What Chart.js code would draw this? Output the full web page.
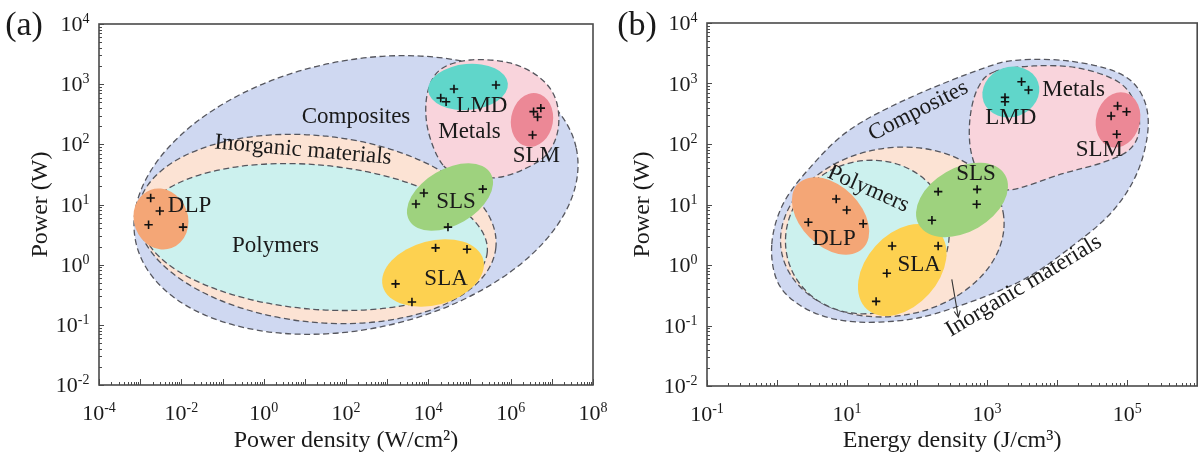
<!DOCTYPE html>
<html>
<head>
<meta charset="utf-8">
<script src="https://cdn.jsdelivr.net/npm/chart.js@4.4.1/dist/chart.umd.min.js"></script>
<style>
  html, body { margin: 0; padding: 0; background: #fff; }
  #wrap { position: relative; width: 1203px; height: 455px; overflow: hidden; }
  canvas { position: absolute; top: 0; }
  #chartA { left: 0; }
  #chartB { left: 600px; }
</style>
</head>
<body>
<div id="wrap">
  <canvas id="chartA" width="620" height="455"></canvas>
  <canvas id="chartB" width="603" height="455"></canvas>
</div>
<script>
// ---------- (a) power vs power density ----------
const dlpPowerDensity = [1.8e-3, 3.0e-3, 1.6e-3, 1.1e-2];
const dlpPowerA       = [12.8, 7.8, 4.6, 4.2];
const slaPowerDensity = [1.5e4, 8.7e4, 1.6e3, 4.0e3];
const slaPowerA       = [1.9, 1.8, 0.48, 0.24];
const slsPowerDensity = [7.8e3, 5.0e3, 2.1e5, 3.0e4];
const slsPowerA       = [15.5, 10.2, 18, 4.2];
const lmdPowerDensity = [2.0e4, 2.7e4, 4.2e4, 4.4e5];
const lmdPowerA       = [590, 510, 830, 970];
const slmPowerDensity = [3.6e6, 5.4e6, 4.5e6, 3.4e6];
const slmPowerA       = [350, 400, 285, 143];

// ---------- (b) power vs energy density ----------
const dlpEnergyDensity = [7.0, 9.9, 2.8, 17];
const dlpPowerB        = [12.3, 8.1, 5.1, 4.8];
const slaEnergyDensity = [44, 200, 37, 26];
const slaPowerB        = [2.06, 2.06, 0.73, 0.25];
const slsEnergyDensity = [200, 720, 710, 163];
const slsPowerB        = [16.3, 17.8, 10.1, 5.5];
const lmdEnergyDensity = [3.1e3, 3.9e3, 1.8e3, 1.8e3];
const lmdPowerB        = [1070, 780, 590, 500];
const slmEnergyDensity = [7.3e4, 9.8e4, 5.9e4, 7.1e4];
const slmPowerB        = [425, 342, 290, 145];

// ---------- axes ----------
const xRangeA = [1e-4, 1e8];
const xRangeB = [1e-1, 1e6];
const yRange  = [1e-2, 1e4];
const xTickExpA = [-4, -2, 0, 2, 4, 6, 8];
const xTickExpB = [-1, 1, 3, 5];
const yTickExp  = [-2, -1, 0, 1, 2, 3, 4];

// ---------- material classes, (a) ----------
// ellipses: centre in data units, half-spans in decades, tilt in degrees
const classNamesA   = ['Composites', 'Inorganic materials', 'Polymers'];
const classCentreXA = [175, 19.7, 17.7];
const classCentreYA = [14.4, 3.92, 2.88];
const classSpanXA   = [5.47, 4.37, 4.20];
const classSpanYA   = [2.23, 1.55, 1.20];
const classTiltA    = [-12, 6, 5];
const metalsEdgeXA = [2.27e4, 9.8e3, 9.3e3, 1.9e4, 1.03e5, 9.6e5, 5.2e6, 1.26e7, 1.41e7, 7.2e6, 1.68e6, 3.7e5, 7.8e4];
const metalsEdgeYA = [45, 173, 660, 1720, 2520, 2250, 1270, 546, 173, 66, 36, 27.6, 32];

// ---------- material classes, (b) ----------
const compositesEdgeXB = [0.84, 1.02, 2.10, 6.6, 28.9, 175, 2830, 1.72e4, 6.4e4, 1.44e5, 2.0e5, 1.54e5, 7.0e4, 1.46e4, 2830, 900, 77, 10.8, 2.92, 1.2];
const compositesEdgeYB = [2.14, 0.524, 0.218, 0.128, 0.114, 0.155, 0.524, 2.14, 8.1, 37, 206, 724, 1550, 2355, 2440, 1800, 575, 170, 40, 9.8];
const classNamesB   = ['Inorganic materials', 'Polymers'];
const classCentreXB = [44.3, 19.5];
const classCentreYB = [3.51, 2.90];
const classSpanXB   = [1.607, 1.18];
const classSpanYB   = [1.388, 1.256];
const classTiltB    = [-10, -20];
const metalsEdgeXB = [1250, 4630, 2.02e4, 7.5e4, 1.31e5, 1.49e5, 1.07e5, 4.6e4, 1.16e4, 2040, 870, 590, 570, 740];
const metalsEdgeYB = [1550, 1950, 1800, 1060, 458, 170, 80, 50, 32, 17.4, 27.4, 74, 269, 843];

// ---------- process windows ----------
const processNames = ['DLP', 'SLA', 'SLS', 'LMD', 'SLM'];
const procCentreXA = [3.2e-3, 1.3e4, 3.36e4, 9.2e4, 3.3e6];
const procCentreYA = [5.74, 0.728, 13.3, 898, 254];
const procSpanXA   = [0.656, 1.263, 1.142, 0.972, 0.510];
const procSpanYA   = [0.515, 0.532, 0.465, 0.382, 0.449];
const procTiltA    = [-20, -15, -30, -5, 10];
const procCentreXB = [5.81, 61.4, 438, 2180, 7.4e4];
const procCentreYB = [6.46, 0.826, 11.9, 724, 250];
const procSpanXB   = [0.654, 0.754, 0.711, 0.413, 0.313];
const procSpanYB   = [0.496, 0.595, 0.529, 0.413, 0.463];
const procTiltB    = [45, -48, -30, -20, 15];

// ---------- text labels ----------
const labelTextA = ['Composites', 'Inorganic materials', 'Polymers', 'DLP', 'SLS', 'SLA', 'LMD', 'Metals', 'SLM'];
const labelXA    = [175, 9.0, 1.94, 0.0158, 4.7e4, 2.7e4, 2.0e5, 1.0e5, 4.2e6];
const labelYA    = [284, 80, 2.04, 9.4, 11.0, 0.58, 434, 163, 64];
const labelTiltA = [0, 5, 0, 0, 0, 0, 0, 0, 0];
const labelTextB = ['Composites', 'Metals', 'LMD', 'SLM', 'SLS', 'Polymers', 'DLP', 'SLA', 'Inorganic materials'];
const labelXB    = [104, 1.72e4, 2180, 4.0e4, 693, 20.1, 6.5, 107, 3330];
const labelYB    = [351, 781, 269, 79.6, 32.5, 18.0, 2.74, 1.0, 0.45];
const labelTiltB = [-27, 0, 0, 0, 0, 24, 0, 0, -31];
const arrowXB = [313, 388];
const arrowYB = [0.58, 0.137];

// ---------- styling ----------
const FONT = "'Liberation Serif', 'Times New Roman', serif";
const INK = '#1a1a1a';
const classColors = {
  'Composites': '#cfd8f1',
  'Inorganic materials': '#fce3d4',
  'Polymers': '#ccf1ee',
  'Metals': '#f9d4dc'
};
const processColors = { DLP: '#f4a676', SLA: '#fdd150', SLS: '#9ed27e', LMD: '#60d6ca', SLM: '#ec8896' };

function ellipseShape(name, cx, cy, sx, sy, tilt, color, outline) {
  return { kind: 'ellipse', name, cx, cy, sx, sy, tilt, color, outline };
}
function edgeShape(name, xs, ys, color) {
  return { kind: 'edge', name, xs, ys, color, outline: true };
}

const shapesA = [
  ...classNamesA.map((n, i) => ellipseShape(n, classCentreXA[i], classCentreYA[i], classSpanXA[i], classSpanYA[i], classTiltA[i], classColors[n], true)),
  edgeShape('Metals', metalsEdgeXA, metalsEdgeYA, classColors.Metals),
  ...processNames.map((n, i) => ellipseShape(n, procCentreXA[i], procCentreYA[i], procSpanXA[i], procSpanYA[i], procTiltA[i], processColors[n], false))
];
const shapesB = [
  edgeShape('Composites', compositesEdgeXB, compositesEdgeYB, classColors.Composites),
  ...classNamesB.map((n, i) => ellipseShape(n, classCentreXB[i], classCentreYB[i], classSpanXB[i], classSpanYB[i], classTiltB[i], classColors[n], true)),
  edgeShape('Metals', metalsEdgeXB, metalsEdgeYB, classColors.Metals),
  ...processNames.map((n, i) => ellipseShape(n, procCentreXB[i], procCentreYB[i], procSpanXB[i], procSpanYB[i], procTiltB[i], processColors[n], false))
];

// closed smooth curve through the given pixel points
function traceClosed(ctx, pts) {
  const n = pts.length;
  ctx.moveTo(pts[0][0], pts[0][1]);
  for (let i = 0; i < n; i++) {
    const p0 = pts[(i - 1 + n) % n], p1 = pts[i], p2 = pts[(i + 1) % n], p3 = pts[(i + 2) % n];
    ctx.bezierCurveTo(
      p1[0] + (p2[0] - p0[0]) / 6, p1[1] + (p2[1] - p0[1]) / 6,
      p2[0] - (p3[0] - p1[0]) / 6, p2[1] - (p3[1] - p1[1]) / 6,
      p2[0], p2[1]);
  }
  ctx.closePath();
}

function drawPower(ctx, exp, x, baseline, align) {
  const base = '10', sup = String(exp);
  ctx.font = `22px ${FONT}`;
  const wb = ctx.measureText(base).width;
  ctx.font = `14px ${FONT}`;
  const ws = ctx.measureText(sup).width;
  const x0 = align === 'center' ? x - (wb + ws) / 2 : x - (wb + ws);
  ctx.textAlign = 'left';
  ctx.textBaseline = 'alphabetic';
  ctx.font = `22px ${FONT}`;
  ctx.fillText(base, x0, baseline);
  ctx.font = `14px ${FONT}`;
  ctx.fillText(sup, x0 + wb, baseline - 8);
}

function makeSketch(panel) {
  return {
    id: 'sketch' + panel.tag,
    beforeDatasetsDraw(chart) {
      const { ctx, chartArea: a } = chart;
      const xs = chart.scales.x, ys = chart.scales.y;
      const decX = (a.right - a.left) / (Math.log10(xs.max) - Math.log10(xs.min));
      const decY = (a.bottom - a.top) / (Math.log10(ys.max) - Math.log10(ys.min));
      ctx.save();
      ctx.beginPath();
      ctx.rect(a.left, a.top, a.right - a.left, a.bottom - a.top);
      ctx.clip();
      panel.shapes.forEach(s => {
        ctx.beginPath();
        if (s.kind === 'ellipse') {
          ctx.ellipse(xs.getPixelForValue(s.cx), ys.getPixelForValue(s.cy),
                      s.sx * decX, s.sy * decY, s.tilt * Math.PI / 180, 0, Math.PI * 2);
        } else {
          traceClosed(ctx, s.xs.map((v, i) => [xs.getPixelForValue(v), ys.getPixelForValue(s.ys[i])]));
        }
        ctx.fillStyle = s.color;
        ctx.fill();
        if (s.outline) {
          ctx.setLineDash([6, 3.5]);
          ctx.lineWidth = 1.3;
          ctx.strokeStyle = '#55565e';
          ctx.stroke();
          ctx.setLineDash([]);
        }
      });
      ctx.restore();
    },
    afterDatasetsDraw(chart) {
      const { ctx, chartArea: a } = chart;
      const xs = chart.scales.x, ys = chart.scales.y;
      ctx.save();
      // region / process names
      ctx.fillStyle = INK;
      ctx.font = `23px ${FONT}`;
      ctx.textAlign = 'center';
      ctx.textBaseline = 'middle';
      panel.labels.forEach((t, i) => {
        ctx.save();
        ctx.translate(xs.getPixelForValue(panel.labelX[i]), ys.getPixelForValue(panel.labelY[i]));
        ctx.rotate(panel.labelTilt[i] * Math.PI / 180);
        ctx.fillText(t, 0, 0);
        ctx.restore();
      });
      // pointer arrow
      if (panel.arrowX) {
        const x1 = xs.getPixelForValue(panel.arrowX[0]), y1 = ys.getPixelForValue(panel.arrowY[0]);
        const x2 = xs.getPixelForValue(panel.arrowX[1]), y2 = ys.getPixelForValue(panel.arrowY[1]);
        const ang = Math.atan2(y2 - y1, x2 - x1);
        ctx.strokeStyle = '#333';
        ctx.lineWidth = 1.1;
        ctx.beginPath();
        ctx.moveTo(x1, y1); ctx.lineTo(x2, y2);
        ctx.moveTo(x2 - 7 * Math.cos(ang - 0.45), y2 - 7 * Math.sin(ang - 0.45));
        ctx.lineTo(x2, y2);
        ctx.lineTo(x2 - 7 * Math.cos(ang + 0.45), y2 - 7 * Math.sin(ang + 0.45));
        ctx.stroke();
      }
      // frame
      ctx.strokeStyle = '#4a4a4a';
      ctx.lineWidth = 1.6;
      ctx.strokeRect(a.left, a.top, a.right - a.left, a.bottom - a.top);
      // inward ticks, majors on decades, minors on 2..9
      ctx.lineWidth = 1;
      ctx.beginPath();
      const ex0 = Math.round(Math.log10(xs.min)), ex1 = Math.round(Math.log10(xs.max));
      for (let e = ex0; e <= ex1; e++) {
        for (let k = 1; k <= 9; k++) {
          const v = k * Math.pow(10, e);
          if (v > xs.max * 1.0001) break;
          const p = Math.round(xs.getPixelForValue(v)) + 0.5;
          ctx.moveTo(p, a.bottom);
          ctx.lineTo(p, a.bottom - (k === 1 ? 6 : 3));
        }
      }
      const ey0 = Math.round(Math.log10(ys.min)), ey1 = Math.round(Math.log10(ys.max));
      for (let e = ey0; e <= ey1; e++) {
        for (let k = 1; k <= 9; k++) {
          const v = k * Math.pow(10, e);
          if (v > ys.max * 1.0001) break;
          const p = Math.round(ys.getPixelForValue(v)) + 0.5;
          ctx.moveTo(a.left, p);
          ctx.lineTo(a.left + (k === 1 ? 5 : 3), p);
        }
      }
      ctx.stroke();
      // tick labels
      ctx.fillStyle = INK;
      panel.xTickExp.forEach(e => drawPower(ctx, e, xs.getPixelForValue(Math.pow(10, e)), a.bottom + 34.5, 'center'));
      yTickExp.forEach(e => drawPower(ctx, e, a.left - 9.5, ys.getPixelForValue(Math.pow(10, e)) + 7, 'right'));
      // panel tag
      ctx.font = `34px ${FONT}`;
      ctx.textAlign = 'center';
      ctx.textBaseline = 'middle';
      ctx.fillText(panel.tagText, panel.tagX, 26);
      ctx.restore();
    }
  };
}

function pointsOf(xv, yv) { return xv.map((v, i) => ({ x: v, y: yv[i] })); }
function markerSet(label, xv, yv) {
  return {
    label, data: pointsOf(xv, yv), showLine: false,
    pointStyle: 'cross', pointRadius: 4.2, pointHoverRadius: 4.2,
    pointBorderWidth: 1.6, borderColor: '#111', backgroundColor: '#111'
  };
}

function makeOptions(xRange, xTitle, pad, yWidth, xHeight, yTitlePad) {
  const titleFont = { family: FONT, size: 24, lineHeight: 1.2 };
  return {
    responsive: false,
    animation: false,
    devicePixelRatio: 1,
    events: [],
    layout: { padding: pad },
    plugins: { legend: { display: false }, tooltip: { enabled: false } },
    scales: {
      x: {
        type: 'logarithmic', min: xRange[0], max: xRange[1],
        grid: { display: false }, border: { display: false },
        ticks: { display: false },
        title: { display: true, text: xTitle, color: INK, font: titleFont, padding: { top: 0, bottom: 0 } },
        afterFit(s) { s.height = xHeight; }
      },
      y: {
        type: 'logarithmic', min: yRange[0], max: yRange[1],
        grid: { display: false }, border: { display: false },
        ticks: { display: false },
        title: { display: true, text: 'Power (W)', color: INK, font: titleFont, padding: { top: yTitlePad, bottom: 0 } },
        afterFit(s) { s.width = yWidth; }
      }
    }
  };
}

new Chart(document.getElementById('chartA'), {
  type: 'scatter',
  data: {
    datasets: [
      markerSet('DLP', dlpPowerDensity, dlpPowerA),
      markerSet('SLA', slaPowerDensity, slaPowerA),
      markerSet('SLS', slsPowerDensity, slsPowerA),
      markerSet('LMD', lmdPowerDensity, lmdPowerA),
      markerSet('SLM', slmPowerDensity, slmPowerA)
    ]
  },
  options: makeOptions(xRangeA, 'Power density (W/cm²)', { left: 0, right: 27, top: 24, bottom: 0 }, 99, 70, 26.5),
  plugins: [makeSketch({
    tag: 'A', tagText: '(a)', tagX: 24, shapes: shapesA, xTickExp: xTickExpA,
    labels: labelTextA, labelX: labelXA, labelY: labelYA, labelTilt: labelTiltA
  })]
});

new Chart(document.getElementById('chartB'), {
  type: 'scatter',
  data: {
    datasets: [
      markerSet('DLP', dlpEnergyDensity, dlpPowerB),
      markerSet('SLA', slaEnergyDensity, slaPowerB),
      markerSet('SLS', slsEnergyDensity, slsPowerB),
      markerSet('LMD', lmdEnergyDensity, lmdPowerB),
      markerSet('SLM', slmEnergyDensity, slmPowerB)
    ]
  },
  options: makeOptions(xRangeB, 'Energy density (J/cm³)', { left: 0, right: 4, top: 23, bottom: 0 }, 107, 69, 28.5),
  plugins: [makeSketch({
    tag: 'B', tagText: '(b)', tagX: 37, shapes: shapesB, xTickExp: xTickExpB,
    labels: labelTextB, labelX: labelXB, labelY: labelYB, labelTilt: labelTiltB,
    arrowX: arrowXB, arrowY: arrowYB
  })]
});
</script>
</body>
</html>
